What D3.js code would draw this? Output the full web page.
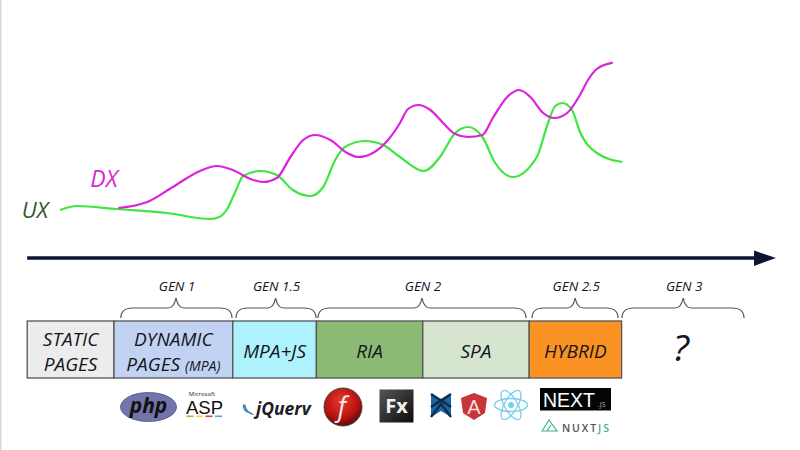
<!DOCTYPE html>
<html>
<head>
<meta charset="utf-8">
<script src="https://cdn.jsdelivr.net/npm/d3@7"></script>
<style>
html,body{margin:0;padding:0;background:#fff;}
svg{display:block;}
text{font-family:"Open Sans",sans-serif;}
.hand{font-style:italic;fill:#14161c;text-anchor:middle;}
</style>
</head>
<body>
<svg id="chart" width="800" height="450"></svg>
<script>
// timeline position (0-100) and level (0-100)
var uxTime = [7.5,9.6,14.6,20.9,26.3,27.4,28.4,29.4,30.4,32.5,34.6,36.6,38.8,40.4,41.9,43.1,45.6,47.9,50,53,55,56.9,58.5,60.3,61.9,64.1,67.1,68.5,69.4,70.3,71.5,72.5,74.6,77.8];
var uxLevel = [15,17,15.5,13.5,10.5,11.5,15.5,24,32,34.5,32.5,25,22,26.5,40,46.5,49.5,47.5,41.5,34.5,41.5,53.5,56.5,51.5,38.5,31.5,41.5,58.5,67,68.5,65,54,43.5,39];
var dxTime = [14.8,18.4,21.6,25,27.1,29.1,31.3,32.9,34.6,36.3,37.9,39.4,41.3,43.4,44.8,46.6,48.5,50,51,52.3,53.8,55.4,56.9,58.5,60.3,61.6,63.4,64.9,66.3,67.9,69.3,70.9,72.5,73.5,74.6,76.6];
var dxLevel = [16,19,26.5,34.5,37,35,30.5,29,31,41.5,50,52.5,50,43.5,41.5,43.5,50,58.5,65.5,67.5,65,58.5,53,51.5,52.5,61,71.5,75,71.5,63.5,61,63.5,72.5,80,85.5,88.7];

var stageNames = [["STATIC","PAGES"],["DYNAMIC","PAGES (MPA)"],["MPA+JS"],["RIA"],["SPA"],["HYBRID"]];
var stageEdges = [3.4,14.25,29.1,39.55,52.85,66.15,77.7];
var stageColors = ["#ececec","#c2d2f2","#aef2fd","#8aba74","#d5e5cf","#fb9224"];

var genLabels = ["GEN 1","GEN 1.5","GEN 2","GEN 2.5","GEN 3"];
var genStart = [15.1,29.5,39.75,66.5,77.75];
var genEnd = [29,39.5,65.75,77.25,93];
var genTip = [22,34.45,52.75,71.9,85.4];

var svg = d3.select("#chart");
var x = d3.scaleLinear().domain([0,100]).range([0,800]);
var y = d3.scaleLinear().domain([0,100]).range([240,40]);

svg.append("rect").attr("x",0).attr("y",0).attr("width",1.5).attr("height",450).attr("fill","#d8d8d8");

// curves
var line = d3.line().x(function(d){return x(d[0]);}).y(function(d){return y(d[1]);}).curve(d3.curveMonotoneX);
svg.append("path").datum(d3.zip(uxTime,uxLevel)).attr("d",line).attr("fill","none").attr("stroke","#3fe63f").attr("stroke-width",2.2);
svg.append("path").datum(d3.zip(dxTime,dxLevel)).attr("d",line).attr("fill","none").attr("stroke","#dc22dc").attr("stroke-width",2.2);

svg.append("text").attr("class","hand").attr("x",104).attr("y",187).attr("font-size",23).style("fill","#d926d9").text("DX");
svg.append("text").attr("class","hand").attr("x",35).attr("y",218).attr("font-size",22).style("fill","#33582c").text("UX");

// time arrow
svg.append("line").attr("x1",x(3.4)).attr("x2",x(94.5)).attr("y1",258).attr("y2",258).attr("stroke","#0e1433").attr("stroke-width",3.5);
svg.append("path").attr("d",d3.line()([[754,250.5],[776,258],[754,266]])).attr("fill","#0e1433");

// stages
var stage = svg.selectAll("g.stage").data(stageNames).join("g").attr("class","stage");
stage.append("rect")
	.attr("x",function(d,i){return x(stageEdges[i]);})
	.attr("y",321).attr("height",57)
	.attr("width",function(d,i){return x(stageEdges[i+1])-x(stageEdges[i]);})
	.attr("fill",function(d,i){return stageColors[i];})
	.attr("stroke","#555").attr("stroke-width",1.3);
stage.each(function(names,i){
	var cx = (x(stageEdges[i])+x(stageEdges[i+1]))/2;
	var g = d3.select(this);
	names.forEach(function(n,j){
		var t = g.append("text").attr("class","hand").attr("x",cx).attr("font-size",19)
			.attr("y",names.length==1 ? 358 : 346+j*24.5);
		if(n.indexOf("(MPA)")>=0){
			t.text("PAGES ");
			t.append("tspan").attr("font-size",14).text("(MPA)");
		} else t.text(n);
	});
});
svg.append("text").attr("class","hand").attr("x",681).attr("y",361).attr("font-size",37).text("?");

// braces
function brace(a,b,tip){
	var yb=318, ym=308, yt=298;
	return "M"+a+","+yb+" Q"+a+","+ym+" "+(a+12)+","+ym+" L"+(tip-8)+","+ym+" Q"+(tip-2)+","+ym+" "+tip+","+yt+
		" Q"+(tip+2)+","+ym+" "+(tip+8)+","+ym+" L"+(b-12)+","+ym+" Q"+b+","+ym+" "+b+","+yb;
}
genLabels.forEach(function(g,i){
	svg.append("path").attr("d",brace(x(genStart[i]),x(genEnd[i]),x(genTip[i]))).attr("fill","none").attr("stroke","#555").attr("stroke-width",1.2);
	svg.append("text").attr("class","hand").attr("x",x(genTip[i])+1).attr("y",291).attr("font-size",13.5).text(g);
});

// logos
var defs = svg.append("defs");
var flashGrad = defs.append("radialGradient").attr("id","flash").attr("cx","45%").attr("cy","35%").attr("r","65%");
flashGrad.append("stop").attr("offset","0%").attr("stop-color","#e8392c");
flashGrad.append("stop").attr("offset","70%").attr("stop-color","#b5110e");
flashGrad.append("stop").attr("offset","100%").attr("stop-color","#5d0a08");
var fxGrad = defs.append("linearGradient").attr("id","fx").attr("x1",0).attr("y1",0).attr("x2",1).attr("y2",1);
fxGrad.append("stop").attr("offset","0%").attr("stop-color","#555");
fxGrad.append("stop").attr("offset","100%").attr("stop-color","#0c0c0c");

// php
svg.append("ellipse").attr("cx",148.5).attr("cy",407).attr("rx",28).attr("ry",14.5).attr("fill","#7175ac").attr("stroke","#4d5080").attr("stroke-width",.8);
svg.append("text").attr("x",148.5).attr("y",413).attr("text-anchor","middle").attr("font-size",21).attr("font-weight",700).attr("font-style","italic").attr("fill","#111").text("php");

// asp
svg.append("text").attr("x",202).attr("y",396).attr("text-anchor","middle").attr("font-size",6).attr("fill","#222").text("Microsoft");
svg.append("text").attr("x",204.5).attr("y",414).attr("text-anchor","middle").attr("font-size",18.5).attr("fill","#111").style("font-family","Liberation Sans").text("ASP");
["#8cc04a","#f2dc3c","#e0404a","#4ea6dc"].forEach(function(c,i){
	svg.append("rect").attr("x",186.5+i*9.5).attr("y",415.5).attr("width",7).attr("height",1.6).attr("fill",c);
});

// jquery
[3,6,9].forEach(function(r){
	svg.append("path").attr("d","M"+(243+r*.2)+","+(404+r*.1)+" A"+(r+3)+","+(r+3)+" 0 0 0 "+(248+r*.6)+","+(411+r*.4)).attr("fill","none").attr("stroke","#4a86bd").attr("stroke-width",1.3);
});
svg.append("text").attr("x",256).attr("y",415).attr("font-size",17.5).attr("font-weight",700).attr("font-style","italic").attr("fill","#1c2026").text("jQuerv");

// flash
svg.append("circle").attr("cx",343).attr("cy",407).attr("r",19).attr("fill","url(#flash)").attr("stroke","#444").attr("stroke-width",1);
svg.append("text").attr("x",342).attr("y",416).attr("text-anchor","middle").attr("font-size",27).attr("font-style","italic").attr("fill","#f2eaea").text("f");

// flex
svg.append("rect").attr("x",379.5).attr("y",389.5).attr("width",34).attr("height",33).attr("fill","url(#fx)");
svg.append("text").attr("x",396.5).attr("y",413).attr("text-anchor","middle").attr("font-size",20).attr("font-weight",700).attr("fill","#f2f2f2").text("Fx");

// backbone
svg.append("path").attr("d","M431,394 L441,400 L451,394 L451,417 L441,411 L431,417 Z").attr("fill","#1c66a8");
svg.append("path").attr("d","M431,394 L451,407 M451,394 L431,407 M431,407 L441,400 L451,407 M431,417 L441,404 L451,417").attr("fill","none").attr("stroke","#0e2c4e").attr("stroke-width",2.4);

// angular
svg.append("path").attr("d","M474,393 L487,398 L485,413 L474,420 L463,413 L461,398 Z").attr("fill","#c9333a");
svg.append("text").attr("x",474).attr("y",414).attr("text-anchor","middle").attr("font-size",20).attr("fill","#f4dcdc").style("font-family","Liberation Sans").text("A");

// react
[0,60,120].forEach(function(a){
	svg.append("ellipse").attr("cx",511).attr("cy",405).attr("rx",16.5).attr("ry",6.5).attr("transform","rotate("+a+" 511 405)").attr("fill","none").attr("stroke","#74cdee").attr("stroke-width",1.3);
});
svg.append("circle").attr("cx",511).attr("cy",405).attr("r",3).attr("fill","#74cdee");

// next
svg.append("rect").attr("x",540).attr("y",388).attr("width",71).attr("height",22.5).attr("fill","#050505");
svg.append("text").attr("x",543).attr("y",407).attr("font-size",21).attr("textLength",52).attr("lengthAdjust","spacingAndGlyphs").attr("fill","#fff").style("font-family","Liberation Sans").text("NEXT");
svg.append("text").attr("x",598).attr("y",407).attr("font-size",7).attr("fill","#bbb").text(".JS");

// nuxt
svg.append("path").attr("d","M542,431 L549,420 L557,431 Z M547,431 L551,425").attr("fill","none").attr("stroke","#41b38a").attr("stroke-width",1.2);
var nuxt = svg.append("text").attr("x",562).attr("y",431.5).attr("font-size",10.5).attr("letter-spacing",1.9).attr("font-weight",600).attr("fill","#4a5560").text("NUXT");
nuxt.append("tspan").attr("fill","#41b38a").text("JS");
</script>
</body>
</html>
